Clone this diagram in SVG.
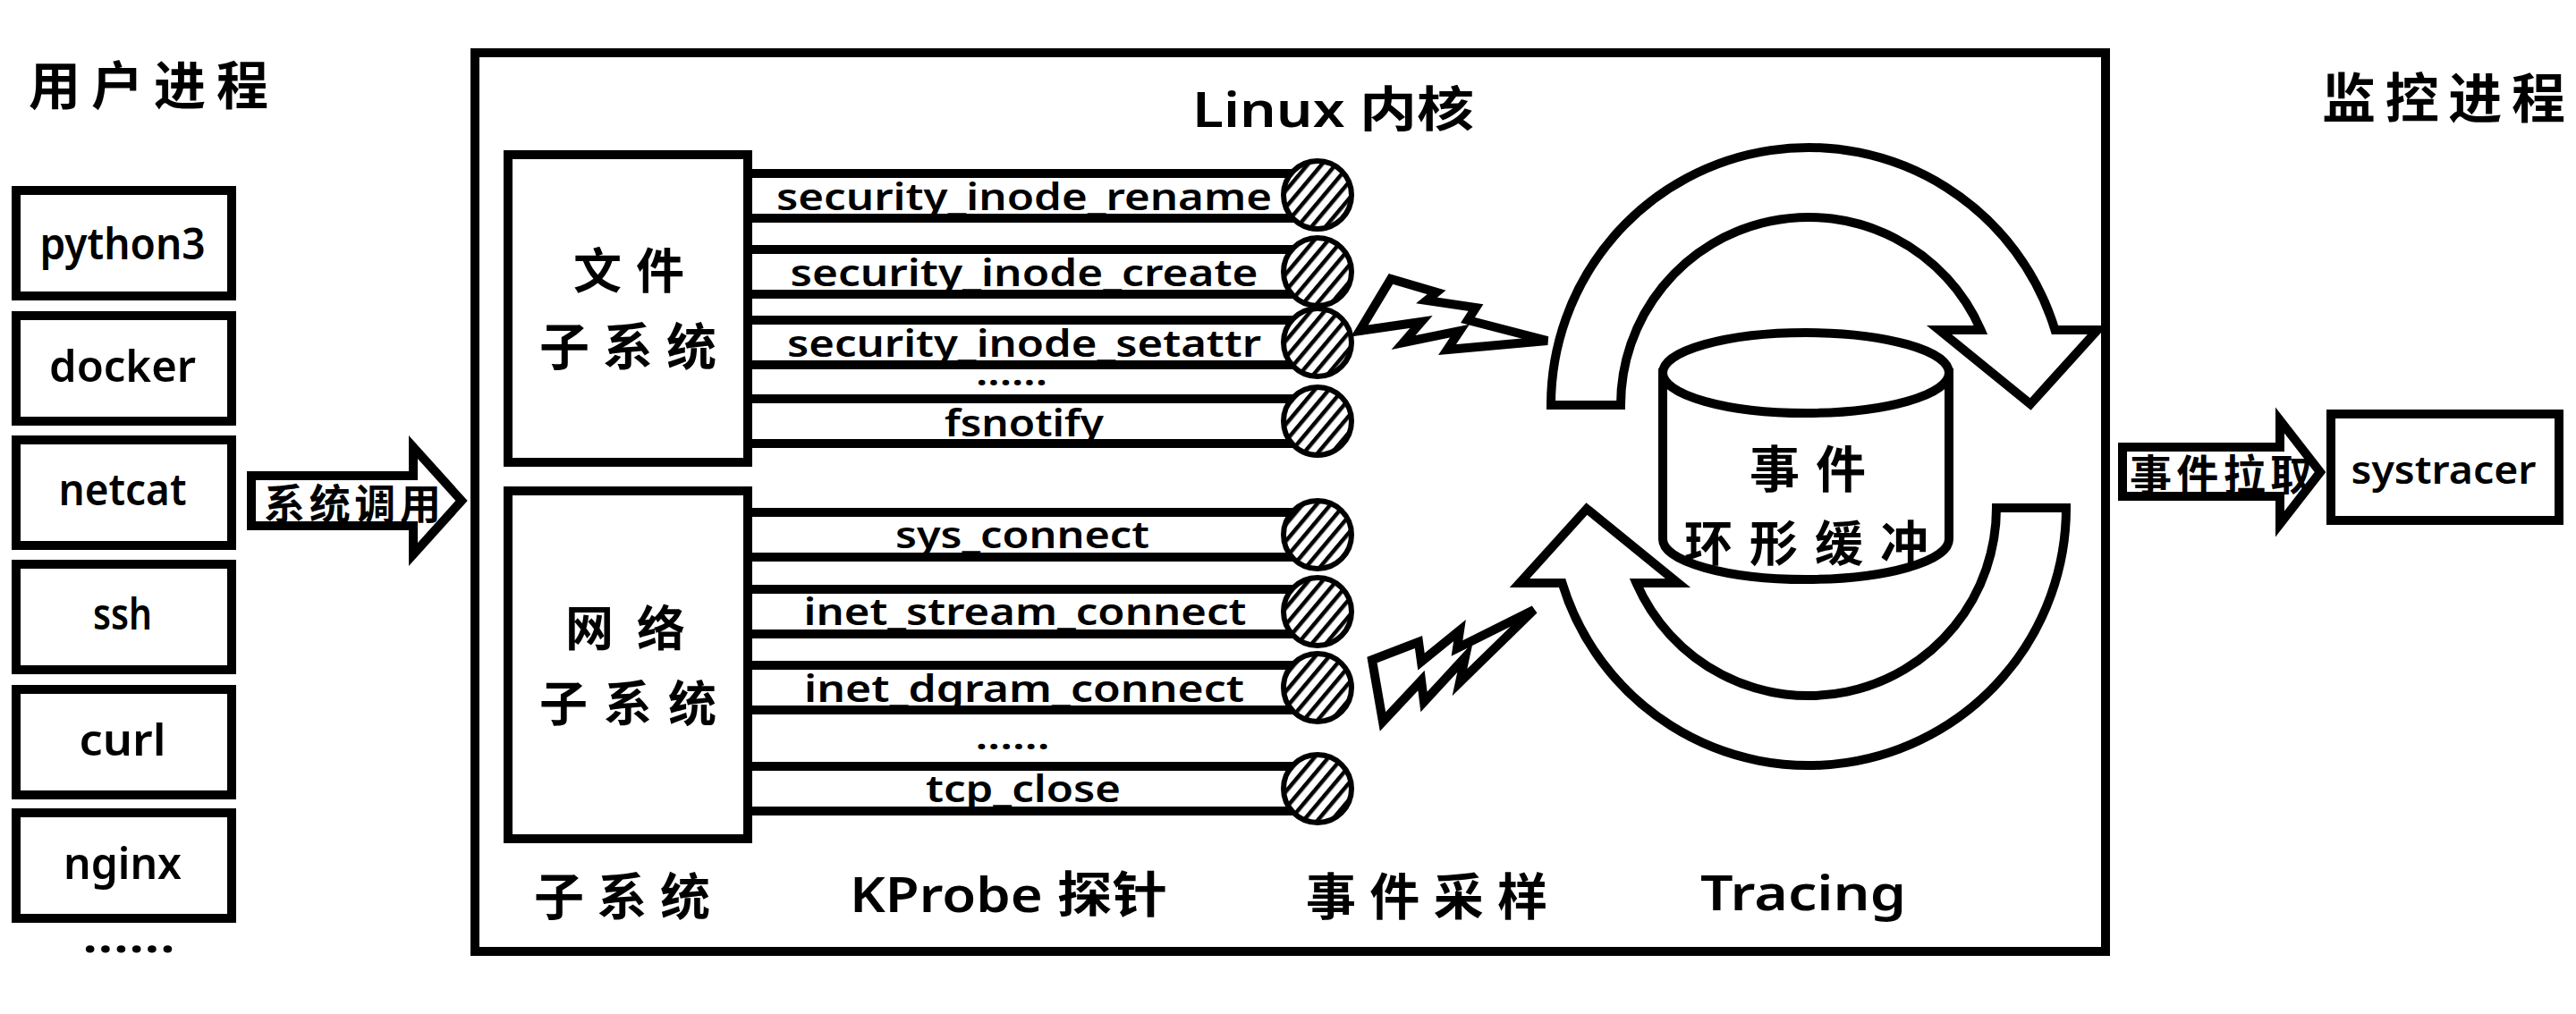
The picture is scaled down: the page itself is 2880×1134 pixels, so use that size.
<svg xmlns="http://www.w3.org/2000/svg" width="2880" height="1134" viewBox="0 0 2880 1134">
<defs>
<style>
.bx{fill:#fff;stroke:#000;stroke-width:10}
.ln{fill:#fff;stroke:#000;stroke-width:10;stroke-linejoin:miter}
.pipe{fill:#fff;stroke:#000;stroke-width:10}
.probe{fill:url(#hatch);stroke:#000;stroke-width:6}
.lat{font-family:'Noto Sans','Noto Sans CJK SC',sans-serif;font-weight:600;fill:#000}
.cjk{font-family:'Noto Sans CJK SC',sans-serif;font-weight:700;fill:#000}
</style>
<pattern id="hatch" patternUnits="userSpaceOnUse" width="12" height="12" patternTransform="rotate(40)">
<rect width="12" height="12" fill="#fff"/>
<rect x="0" y="0" width="4.5" height="12" fill="#000"/>
</pattern>
</defs>
<rect width="2880" height="1134" fill="#fff"/>

<g id="user-processes">
<text class="cjk" x="32" y="117" font-size="58" textLength="268" lengthAdjust="spacing">用户进程</text>
<g id="node-python3"><rect class="bx" x="18" y="213" width="241" height="118"/><text class="lat" x="137" y="290" font-size="48" text-anchor="middle" textLength="185" lengthAdjust="spacingAndGlyphs">python3</text></g>
<g id="node-docker"><rect class="bx" x="18" y="353" width="241" height="118"/><text class="lat" x="137" y="427" font-size="48" text-anchor="middle" textLength="164" lengthAdjust="spacingAndGlyphs">docker</text></g>
<g id="node-netcat"><rect class="bx" x="18" y="492" width="241" height="118"/><text class="lat" x="137" y="565" font-size="48" text-anchor="middle" textLength="143" lengthAdjust="spacingAndGlyphs">netcat</text></g>
<g id="node-ssh"><rect class="bx" x="18" y="631" width="241" height="118"/><text class="lat" x="137" y="704" font-size="48" text-anchor="middle" textLength="66" lengthAdjust="spacingAndGlyphs">ssh</text></g>
<g id="node-curl"><rect class="bx" x="18" y="771" width="241" height="118"/><text class="lat" x="137" y="845" font-size="48" text-anchor="middle" textLength="97" lengthAdjust="spacingAndGlyphs">curl</text></g>
<g id="node-nginx"><rect class="bx" x="18" y="909" width="241" height="118"/><text class="lat" x="137" y="983" font-size="48" text-anchor="middle" textLength="132" lengthAdjust="spacingAndGlyphs">nginx</text></g>
<text class="lat" x="144" y="1065" font-size="52" font-weight="700" text-anchor="middle" textLength="104" lengthAdjust="spacingAndGlyphs">......</text>
</g>

<g id="kernel">
<rect class="bx" x="531" y="59" width="1823" height="1005"/>
<text class="lat" x="1333" y="142" font-size="54" textLength="315" lengthAdjust="spacingAndGlyphs">Linux 内核</text>
<text class="cjk" x="597" y="1023" font-size="56" textLength="197" lengthAdjust="spacing">子系统</text>
<text class="lat" x="950" y="1020" font-size="55" textLength="355" lengthAdjust="spacingAndGlyphs">KProbe 探针</text>
<text class="cjk" x="1460" y="1023" font-size="56" textLength="270" lengthAdjust="spacing">事件采样</text>
<text class="lat" x="1901" y="1018" font-size="55" textLength="230" lengthAdjust="spacingAndGlyphs">Tracing</text>
</g>

<g id="probes-file">
<rect class="pipe" x="836" y="194" width="638" height="50"/>
<rect class="pipe" x="836" y="279" width="638" height="50"/>
<rect class="pipe" x="836" y="358" width="638" height="50"/>
<rect class="pipe" x="836" y="446" width="638" height="50"/>
<circle class="probe" cx="1473" cy="218" r="38"/>
<circle class="probe" cx="1473" cy="304" r="38"/>
<circle class="probe" cx="1473" cy="383" r="38"/>
<circle class="probe" cx="1473" cy="471" r="38"/>
<text class="lat" x="1145" y="235" font-size="42" text-anchor="middle" textLength="554" lengthAdjust="spacingAndGlyphs">security_inode_rename</text>
<text class="lat" x="1145" y="320" font-size="42" text-anchor="middle" textLength="523" lengthAdjust="spacingAndGlyphs">security_inode_create</text>
<text class="lat" x="1145" y="399" font-size="42" text-anchor="middle" textLength="530" lengthAdjust="spacingAndGlyphs">security_inode_setattr</text>
<text class="lat" x="1131" y="431" font-size="40" font-weight="700" text-anchor="middle" textLength="80" lengthAdjust="spacingAndGlyphs">......</text>
<text class="lat" x="1145" y="488" font-size="42" text-anchor="middle" textLength="178" lengthAdjust="spacingAndGlyphs">fsnotify</text>
</g>

<g id="probes-net">
<rect class="pipe" x="836" y="573" width="638" height="50"/>
<rect class="pipe" x="836" y="659" width="638" height="50"/>
<rect class="pipe" x="836" y="744" width="638" height="50"/>
<rect class="pipe" x="836" y="857" width="638" height="50"/>
<circle class="probe" cx="1473" cy="598" r="38"/>
<circle class="probe" cx="1473" cy="684" r="38"/>
<circle class="probe" cx="1473" cy="769" r="38"/>
<circle class="probe" cx="1473" cy="882" r="38"/>
<text class="lat" x="1143" y="613" font-size="42" text-anchor="middle" textLength="284" lengthAdjust="spacingAndGlyphs">sys_connect</text>
<text class="lat" x="1146" y="699" font-size="42" text-anchor="middle" textLength="495" lengthAdjust="spacingAndGlyphs">inet_stream_connect</text>
<text class="lat" x="1145" y="785" font-size="42" text-anchor="middle" textLength="492" lengthAdjust="spacingAndGlyphs">inet_dgram_connect</text>
<text class="lat" x="1132" y="838" font-size="40" font-weight="700" text-anchor="middle" textLength="83" lengthAdjust="spacingAndGlyphs">......</text>
<text class="lat" x="1144" y="897" font-size="42" text-anchor="middle" textLength="218" lengthAdjust="spacingAndGlyphs">tcp_close</text>
</g>

<g id="file-subsystem">
<rect class="bx" x="568" y="173" width="268" height="344"/>
<text class="cjk" x="641" y="323" font-size="54" textLength="124" lengthAdjust="spacing">文件</text>
<text class="cjk" x="603" y="408" font-size="56" textLength="198" lengthAdjust="spacing">子系统</text>
</g>

<g id="net-subsystem">
<rect class="bx" x="568" y="549" width="268" height="389"/>
<text class="cjk" x="632" y="723" font-size="54" textLength="134" lengthAdjust="spacing">网络</text>
<text class="cjk" x="603" y="807" font-size="54" textLength="198" lengthAdjust="spacing">子系统</text>
</g>

<g id="ring-buffer">
<path class="bx" d="M1859 417 L1859 603 A160 45 0 0 0 2179 603 L2179 417 Z"/>
<ellipse class="bx" cx="2019" cy="417" rx="160" ry="45"/>
<text class="cjk" x="1956" y="545" font-size="56" textLength="130" lengthAdjust="spacing">事件</text>
<text class="cjk" x="1883" y="628" font-size="54" textLength="273" lengthAdjust="spacing">环形缓冲</text>
</g>

<g id="node-systracer">
<text class="cjk" x="2596" y="132" font-size="60" textLength="272" lengthAdjust="spacing">监控进程</text>
<rect class="bx" x="2606" y="463" width="255" height="119"/>
<text class="lat" x="2732" y="541" font-size="44" text-anchor="middle" textLength="207" lengthAdjust="spacingAndGlyphs">systracer</text>
</g>

<g id="connectors">
<g id="arrow-syscall">
<polygon class="ln" points="281,532 462,532 462,500 516,560 462,620 462,588 281,588"/>
<text class="cjk" x="295" y="580" font-size="46" textLength="198" lengthAdjust="spacing">系统调用</text>
</g>
<g id="arrow-fetch">
<polygon class="ln" points="2373,500 2549,500 2549,470 2594,528 2549,586 2549,555 2373,555"/>
<text class="cjk" x="2381" y="548" font-size="47" textLength="204" lengthAdjust="spacing">事件拉取</text>
</g>
<polygon id="bolt-file" class="ln" stroke-width="9" points="1520,370 1555,312 1606,327 1595,336 1650,344 1641,358 1730,381 1618,391 1632,370 1569,383 1589,360"/>
<polygon id="bolt-net" class="ln" stroke-width="9" points="1534,738 1586,718 1589,740 1632,705 1629,725 1715,682 1632,763 1638,735 1592,785 1589,761 1546,807"/>
<path id="ring-upper" class="ln" d="M1734 453 A288 288 0 0 1 2297.5 369 L2345 369 L2270 452 L2168 369 L2214.5 369 A210 210 0 0 0 1812 453 Z"/>
<path id="ring-lower" class="ln" d="M2310 568 A288 288 0 0 1 1746.5 652 L1699 652 L1774 569 L1876 652 L1829.5 652 A210 210 0 0 0 2232 568 Z"/>
</g>
</svg>
